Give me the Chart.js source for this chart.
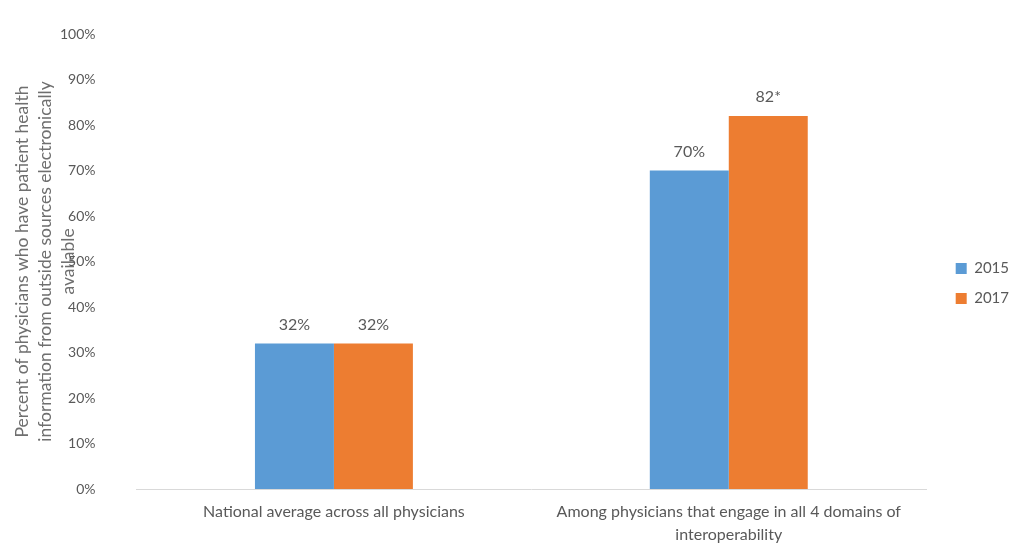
<!DOCTYPE html>
<html>
<head>
<meta charset="utf-8">
<script src="https://cdn.jsdelivr.net/npm/chart.js@4/dist/chart.umd.min.js"></script>
<style>
html,body{margin:0;padding:0;background:#fff;}
#wrap{width:1024px;height:553px;position:relative;}
</style>
</head>
<body>
<div id="wrap"><canvas id="c"></canvas></div>
<script>
const categories = [
  "National average across all physicians",
  ["Among physicians that engage in all 4 domains of", "interoperability"]
];
const seriesNames = ["2015", "2017"];
const values2015 = [32, 70];
const values2017 = [32, 82];
const labels2015 = ["32%", "70%"];
const labels2017 = ["32%", "82*"];
const yTitle = [
  "Percent of physicians who have patient health",
  "information from outside sources electronically",
  "available"
];

const TEXT = "#595959";
const FONT = "Lato";

const valueLabelPlugin = {
  id: "valueLabels",
  afterDatasetsDraw(chart) {
    const ctx = chart.ctx;
    ctx.save();
    ctx.font = "16px " + FONT;
    ctx.fillStyle = TEXT;
    ctx.textAlign = "center";
    ctx.textBaseline = "middle";
    chart.data.datasets.forEach((ds, di) => {
      const meta = chart.getDatasetMeta(di);
      meta.data.forEach((bar, i) => {
        ctx.fillText(ds.valueLabels[i], bar.x, bar.y - 19);
      });
    });
    ctx.restore();
  }
};

new Chart(document.getElementById("c"), {
  type: "bar",
  data: {
    labels: categories,
    datasets: [
      { label: seriesNames[0], data: values2015, valueLabels: labels2015, backgroundColor: "#5B9BD5" },
      { label: seriesNames[1], data: values2017, valueLabels: labels2017, backgroundColor: "#ED7D31" }
    ]
  },
  options: {
    responsive: true,
    maintainAspectRatio: false,
    animation: false,
    layout: { padding: { top: 14, right: 5, bottom: 0, left: 0 } },
    datasets: { bar: { barPercentage: 1, categoryPercentage: 0.4 } },
    plugins: {
      tooltip: { enabled: false },
      legend: {
        position: "right",
        labels: {
          boxWidth: 11, boxHeight: 11, padding: 15,
          color: TEXT, font: { family: FONT, size: 15 }
        }
      }
    },
    scales: {
      x: {
        grid: { display: false, drawTicks: false },
        border: { display: true, color: "#d9d9d9", width: 1 },
        ticks: { color: TEXT, font: { family: FONT, size: 16, lineHeight: 1.45 }, padding: 11.5, maxRotation: 0, autoSkip: false },
        afterFit(s) { s.height = 64; }
      },
      y: {
        min: 0, max: 100,
        grid: { display: false, drawTicks: true, tickLength: 15.4 },
        border: { display: false },
        ticks: { stepSize: 10, color: TEXT, font: { family: FONT, size: 14 }, padding: 25.6, callback: v => v + "%" },
        title: {
          display: true, text: yTitle, color: "#6f6f6f",
          font: { family: FONT, size: 17.5, lineHeight: 1.314 },
          padding: { top: 10.5, bottom: 0 }
        },
        afterFit(s) { s.width = 136.5; }
      },
      gapRight: {
        position: "right",
        min: 0, max: 1,
        grid: { display: false, drawTicks: false },
        border: { display: false },
        ticks: { display: false },
        afterFit(s) { s.width = 14.5; }
      }
    }
  },
  plugins: [valueLabelPlugin]
});
</script>
</body>
</html>
